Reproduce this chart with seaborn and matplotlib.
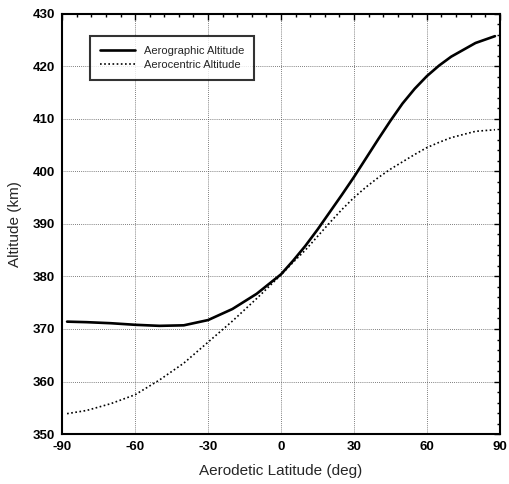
import numpy as np
import pandas as pd
import seaborn as sns
import matplotlib.pyplot as plt
from matplotlib.ticker import MultipleLocator

# values
lat = [-88, -80, -70, -60, -50, -40, -30, -20, -10, 0, 5, 10, 15, 20, 25, 30, 35, 40, 45,
       50, 55, 60, 65, 70, 80, 88]
aerographic = [371.4, 371.3, 371.1, 370.8, 370.6, 370.7, 371.7, 373.8, 376.7, 380.4, 383.0, 385.8,
               388.9, 392.2, 395.5, 398.9, 402.5, 406.1, 409.6, 412.9, 415.7, 418.1, 420.1,
               421.8, 424.4, 425.7]
aerocentric = [353.9, 354.5, 355.8, 357.5, 360.3, 363.5, 367.5, 371.5, 375.8, 380.3, 382.7, 385.0,
               387.6, 390.2, 392.7, 395.0, 397.0, 398.8, 400.4, 401.8, 403.2, 404.5, 405.5,
               406.4, 407.6, 407.9]
labels = ["Aerographic Altitude", "Aerocentric Altitude"]

df = pd.DataFrame({"lat": lat + lat,
                   "alt": aerographic + aerocentric,
                   "kind": [labels[0]] * len(lat) + [labels[1]] * len(lat)})

sns.set_style("white")
plt.rcParams['font.family'] = ['Liberation Sans', 'DejaVu Sans']
plt.rcParams['axes.unicode_minus'] = False

fig = plt.figure(figsize=(5.1, 4.84), dpi=100)
ax = fig.add_axes([0.122, 0.103, 0.858, 0.869])

sns.lineplot(data=df, x="lat", y="alt", hue="kind", style="kind",
             palette=["black", "black"], dashes=[(None, None), (1, 1.5)],
             ax=ax, legend=False)
ax.lines[0].set_linewidth(1.9)
ax.lines[1].set_linewidth(1.2)

ax.set_xlim(-90, 90)
ax.set_ylim(350, 430)
ax.xaxis.set_major_locator(MultipleLocator(30))
ax.xaxis.set_minor_locator(MultipleLocator(6))
ax.yaxis.set_major_locator(MultipleLocator(10))
ax.yaxis.set_minor_locator(MultipleLocator(2))
ax.tick_params(which="both", direction="in", top=True, right=True, colors="black")
ax.tick_params(which="major", length=4, width=1, labelsize=9.5, pad=5)
ax.tick_params(which="minor", length=2.5, width=1)
for t in ax.get_xticklabels() + ax.get_yticklabels():
    t.set_fontweight("bold")

ax.grid(True, which="major", linestyle=(0, (1, 1.5)), color="#555555", linewidth=0.6)
for s in ax.spines.values():
    s.set_color("black")
    s.set_linewidth(1.5)

ax.set_xlabel("Aerodetic Latitude (deg)", fontsize=11, labelpad=8)
ax.set_ylabel("Altitude (km)", fontsize=11, labelpad=8)

leg = ax.legend(ax.lines[:2], labels, loc="upper left", bbox_to_anchor=(0.05, 0.96),
                fontsize=8, frameon=True, fancybox=False, handlelength=3.2,
                borderpad=0.9, labelspacing=0.35)
leg.get_frame().set_edgecolor("black")
leg.get_frame().set_linewidth(1.5)

plt.savefig("out.png", dpi=100)
